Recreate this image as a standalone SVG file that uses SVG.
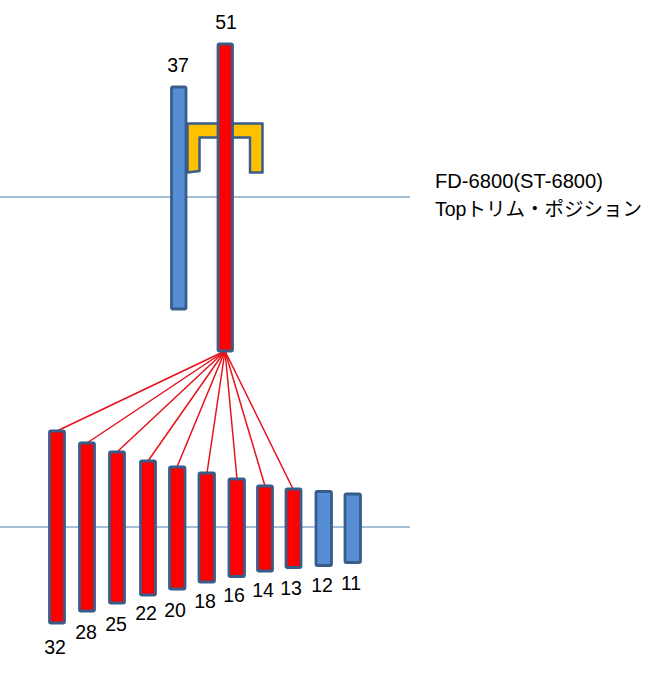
<svg xmlns="http://www.w3.org/2000/svg" width="663" height="673" viewBox="0 0 663 673">
<style>
.bar{stroke:#385d8a;stroke-width:2.8}
.red{fill:#ff0000}
.blue{fill:#558ed5}
.lbl{font-family:"Liberation Sans","Noto Sans CJK JP",sans-serif;font-size:19.5px;fill:#000;text-anchor:middle}
.ref{stroke:#4a7eb0;stroke-width:1}
.conn{stroke:#e8101a;stroke-width:1.5;fill:none}
</style>
<rect width="663" height="673" fill="#fff"/>
<g id="guides">
<line class="ref" x1="0" y1="197" x2="410" y2="197"/>
<line class="ref" x1="0" y1="527" x2="410" y2="527"/>
</g>
<g id="connectors">
<line class="conn" x1="225" y1="351" x2="57" y2="431"/>
<line class="conn" x1="225" y1="351" x2="87" y2="443"/>
<line class="conn" x1="225" y1="351" x2="117" y2="452"/>
<line class="conn" x1="225" y1="351" x2="148" y2="461"/>
<line class="conn" x1="225" y1="351" x2="177" y2="467"/>
<line class="conn" x1="225" y1="351" x2="207" y2="473"/>
<line class="conn" x1="225" y1="351" x2="237" y2="479"/>
<line class="conn" x1="225" y1="351" x2="265" y2="486"/>
<line class="conn" x1="225" y1="351" x2="293" y2="489"/>
</g>
<g id="n37">
<rect class="bar blue" x="171.5" y="87" width="14.5" height="222" rx="1.5"/>
<text class="lbl" x="178" y="72">37</text>
</g>
<g id="bracket">
<path d="M187.5,123.5 L262.5,123.5 L262.5,172.5 L250,172.5 L250,137.5 L199.5,137.5 L199.5,171 L187.5,172.5 Z" fill="#ffc000" stroke="#385d8a" stroke-width="2.5" stroke-linejoin="round"/>
</g>
<g id="n51">
<rect class="bar red" x="218" y="44" width="14.5" height="307" rx="1.5"/>
<text class="lbl" x="226" y="29">51</text>
</g>
<g id="title">
<text font-family="'Liberation Sans','Noto Sans CJK JP',sans-serif" font-size="19.5" x="435" y="188" textLength="168" lengthAdjust="spacingAndGlyphs">FD-6800(ST-6800)</text>
<text font-family="'Liberation Sans','Noto Sans CJK JP',sans-serif" font-size="19.5" x="435" y="216" textLength="207" lengthAdjust="spacingAndGlyphs">Topトリム・ポジション</text>
</g>
<g id="n32"><rect class="bar red" x="49.5" y="431" width="15" height="192" rx="1.5"/><text class="lbl" x="55" y="654">32</text></g>
<g id="n28"><rect class="bar red" x="79.5" y="443" width="15" height="168" rx="1.5"/><text class="lbl" x="86" y="639">28</text></g>
<g id="n25"><rect class="bar red" x="109.5" y="452" width="15" height="151" rx="1.5"/><text class="lbl" x="116" y="631">25</text></g>
<g id="n22"><rect class="bar red" x="140.5" y="461" width="15" height="134" rx="1.5"/><text class="lbl" x="146" y="620">22</text></g>
<g id="n20"><rect class="bar red" x="169.5" y="467" width="15.5" height="122" rx="1.5"/><text class="lbl" x="175" y="617">20</text></g>
<g id="n18"><rect class="bar red" x="199" y="473" width="15.5" height="109" rx="1.5"/><text class="lbl" x="205" y="608">18</text></g>
<g id="n16"><rect class="bar red" x="229" y="479" width="15.5" height="97.5" rx="1.5"/><text class="lbl" x="234" y="602">16</text></g>
<g id="n14"><rect class="bar red" x="257.5" y="486" width="15" height="85" rx="1.5"/><text class="lbl" x="263" y="597">14</text></g>
<g id="n13"><rect class="bar red" x="286" y="489" width="15" height="78.5" rx="1.5"/><text class="lbl" x="291" y="595">13</text></g>
<g id="n12"><rect class="bar blue" x="316" y="491.5" width="15.5" height="74" rx="1.5"/><text class="lbl" x="322" y="592">12</text></g>
<g id="n11"><rect class="bar blue" x="345" y="494" width="15.5" height="68.5" rx="1.5"/><text class="lbl" x="351" y="590">11</text></g>
</svg>
